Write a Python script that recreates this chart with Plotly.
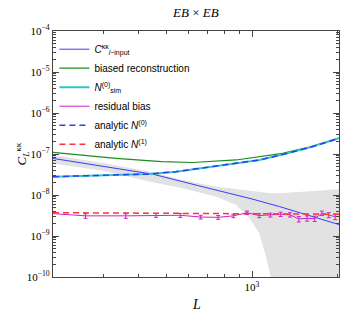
import plotly.graph_objects as go

# ---------------- data ----------------
L_input = [200, 300, 450, 650, 1000, 1250, 1500, 1750, 2020]
C_input = [7.8e-8, 5.0e-8, 3.2e-8, 1.68e-8, 8.0e-9, 5.2e-9, 3.55e-9, 2.6e-9, 1.9e-9]

L_biased = [200, 333, 481, 619, 879, 1000, 1280, 1600, 2020]
C_biased = [1.1e-7, 7.85e-8, 6.5e-8, 6.2e-8, 7.15e-8, 8.1e-8, 1.04e-7, 1.5e-7, 2.45e-7]

L_n0 = [200, 333, 436, 541, 654, 853, 1062, 1280, 1600, 2020]
N0_sim = [2.8e-8, 3.1e-8, 3.25e-8, 3.7e-8, 4.5e-8, 5.9e-8, 7.15e-8, 9.7e-8, 1.45e-7, 2.42e-7]
N0_analytic = N0_sim

L_n1 = [200, 600, 1000, 1500, 2020]
N1_analytic = [3.7e-9, 3.6e-9, 3.5e-9, 3.45e-9, 3.4e-9]

L_bins = [160, 260, 360, 460, 560, 660, 760, 860, 960, 1060, 1160, 1260,
          1360, 1460, 1560, 1660, 1760, 1860, 1960]
residual = [3.9e-9, 3.1e-9, 3.1e-9, 3.2e-9, 3.2e-9, 2.9e-9, 2.85e-9, 3.1e-9,
            3.7e-9, 3.15e-9, 3.25e-9, 3.4e-9, 3.3e-9, 2.6e-9, 2.7e-9, 2.65e-9,
            3.6e-9, 3.25e-9, 2.95e-9]
residual_err = [0.4e-9, 0.4e-9, 0.4e-9, 0.35e-9, 0.35e-9, 0.3e-9, 0.3e-9, 0.3e-9,
                0.35e-9, 0.35e-9, 0.35e-9, 0.4e-9, 0.4e-9, 0.4e-9, 0.4e-9, 0.4e-9,
                0.45e-9, 0.45e-9, 0.45e-9]

band_L = [200, 300, 440, 570, 750, 880, 980, 1060, 1120, 1166, 1250, 1500, 1750, 2020]
band_upper = [9.5e-8, 6.0e-8, 3.7e-8, 2.32e-8, 1.59e-8, 1.4e-8, 1.27e-8, 1.18e-8,
              1.12e-8, 1.1e-8, 1.1e-8, 1.18e-8, 1.27e-8, 1.38e-8]
band_lower = [5.9e-8, 3.9e-8, 2.1e-8, 1.46e-8, 9.1e-9, 5.7e-9, 2.7e-9, 1.16e-9,
              3.1e-10, 9.5e-11, 1e-12, 1e-12, 1e-12, 1e-12]

y_tickvals = [1e-10, 1e-9, 1e-8, 1e-7, 1e-6, 1e-5, 1e-4]
y_ticktext = ["10<sup>\u221210</sup>", "10<sup>\u22129</sup>", "10<sup>\u22128</sup>",
              "10<sup>\u22127</sup>", "10<sup>\u22126</sup>", "10<sup>\u22125</sup>",
              "10<sup>\u22124</sup>"]
x_tickvals = [1000]
x_ticktext = ["10<sup>3</sup>"]
x_minorvals = [200, 300, 400, 500, 600, 700, 800, 900, 2000]

# ---------------- figure ----------------
fig = go.Figure()

fig.add_trace(go.Scatter(x=band_L, y=band_lower, mode="lines", line=dict(width=0),
                         showlegend=False, hoverinfo="skip"))
fig.add_trace(go.Scatter(x=band_L, y=band_upper, mode="lines", line=dict(width=0),
                         fill="tonexty", fillcolor="#e2e2e2",
                         showlegend=False, hoverinfo="skip"))

fig.add_trace(go.Scatter(x=L_input, y=C_input, mode="lines",
                         line=dict(color="#3a3aff", width=1),
                         name="<i>C</i><sup>\u03ba\u03ba</sup><sub><i>l</i>\u2212input</sub>"))
fig.add_trace(go.Scatter(x=L_biased, y=C_biased, mode="lines",
                         line=dict(color="#1e8c1e", width=1.2),
                         name="biased reconstruction"))
fig.add_trace(go.Scatter(x=L_n0, y=N0_sim, mode="lines",
                         line=dict(color="#33c6c6", width=2),
                         name="<i>N</i><sup>(0)</sup><sub>sim</sub>"))
fig.add_trace(go.Scatter(x=L_bins, y=residual, mode="lines",
                         line=dict(color="#cc22cc", width=1),
                         error_y=dict(type="data", array=residual_err, color="#cc22cc",
                                      thickness=1, width=2),
                         name="residual bias"))
fig.add_trace(go.Scatter(x=L_n0, y=N0_analytic, mode="lines",
                         line=dict(color="#2c3cff", width=1.5, dash="6px,4px"),
                         name="analytic <i>N</i><sup>(0)</sup>"))
fig.add_trace(go.Scatter(x=L_n1, y=N1_analytic, mode="lines",
                         line=dict(color="#ff3333", width=1.5, dash="6px,4px"),
                         name="analytic <i>N</i><sup>(1)</sup>"))

serif = "Liberation Serif"
fig.update_layout(
    width=346, height=315,
    margin=dict(l=53, r=7, t=31, b=38),
    paper_bgcolor="white", plot_bgcolor="white",
    showlegend=True,
    title=dict(text="<i>EB</i> \u00d7 <i>EB</i>", x=0.566, xanchor="center",
               y=0.962, yanchor="middle", font=dict(family=serif, size=13, color="black")),
    legend=dict(x=0.005, y=0.985, xanchor="left", yanchor="top",
                bgcolor="rgba(0,0,0,0)", borderwidth=0, traceorder="normal",
                font=dict(family="Liberation Sans", size=10, color="black"),
                tracegroupgap=0, itemwidth=30),
    xaxis=dict(type="log", range=[2.30103, 3.3054],
               tickvals=x_tickvals, ticktext=x_ticktext,
               ticks="inside", ticklen=6, tickwidth=1, tickcolor="#444",
               showline=True, linecolor="#444", linewidth=1.2, mirror="allticks",
               showgrid=False, zeroline=False,
               tickfont=dict(family=serif, size=11, color="black"),
               minor=dict(tickvals=x_minorvals, ticks="inside", ticklen=3,
                          tickcolor="#444", showgrid=False)),
    yaxis=dict(type="log", range=[-10, -4],
               tickvals=y_tickvals, ticktext=y_ticktext,
               ticks="inside", ticklen=6, tickwidth=1, tickcolor="#444",
               showline=True, linecolor="#444", linewidth=1.2, mirror="allticks",
               showgrid=False, zeroline=False,
               tickfont=dict(family=serif, size=11, color="black"),
               minor=dict(dtick="D1", ticks="inside", ticklen=3,
                          tickcolor="#444", showgrid=False)),
    annotations=[
        dict(text="<i>L</i>", xref="paper", yref="paper", x=0.5, y=-0.075,
             xanchor="center", yanchor="top", showarrow=False,
             font=dict(family=serif, size=14, color="black")),
        dict(text="<i>C</i><sub><i>L</i></sub><sup>\u03ba\u03ba</sup>", xref="paper",
             yref="paper", x=-0.11, y=0.5, xanchor="center", yanchor="middle",
             textangle=-90, showarrow=False,
             font=dict(family=serif, size=13, color="black")),
    ],
)

fig.write_html("out.html", config={"displayModeBar": False},
               post_script="document.body.style.margin='0';document.body.style.padding='0';")
